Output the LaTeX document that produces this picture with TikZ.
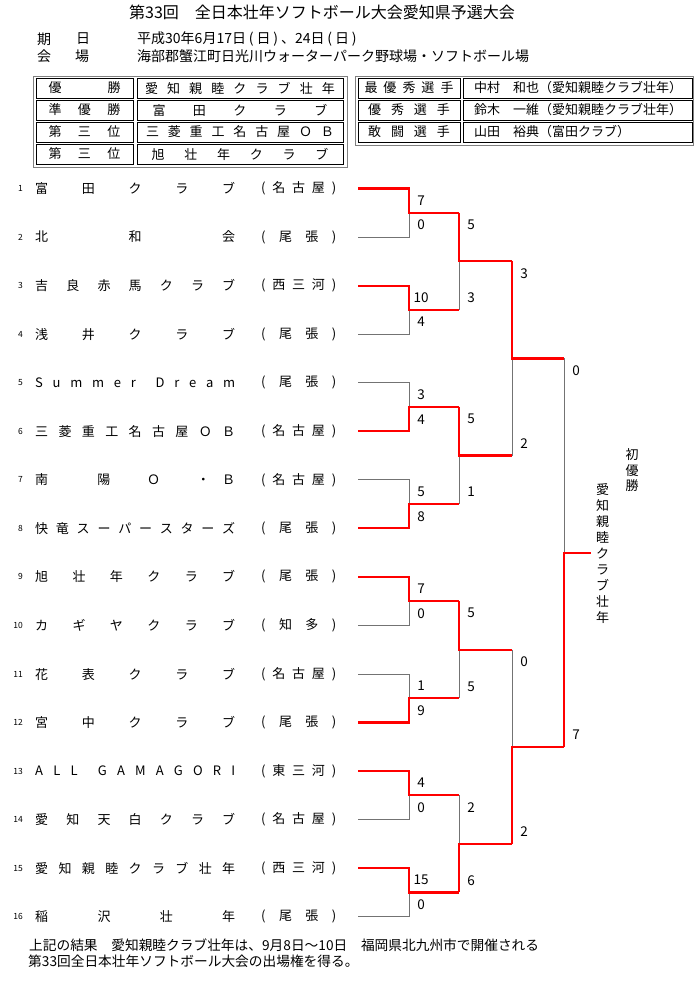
\documentclass[tikz,border=0pt]{standalone}
\usepackage{fontspec}
\setmainfont{Noto Sans CJK JP}
\usetikzlibrary{calc}
\newcommand\halfw[1]{\makebox[0.75em]{#1}}
\def\sprd#1{\sprdA#1\sprdEnd}
\def\sprdA#1#2\sprdEnd{#1\if\relax\detokenize{#2}\relax\else\hfill\sprdA#2\sprdEnd\fi}
\begin{document}
\begin{tikzpicture}[x=1pt,y=-1pt,
  lose/.style={draw=black!55, line width=1pt},
  win/.style={draw=red, line width=2.2pt, line join=miter},
  score/.style={font=\fontsize{13.5}{14}\selectfont, inner sep=0pt},
  idx/.style={font=\fontsize{8.5}{9}\selectfont, anchor=east, inner sep=0pt},
  tname/.style={font=\fontsize{13}{14}\selectfont, anchor=west, inner sep=0pt},
  cell/.style={draw=black, line width=0.8pt, minimum height=20pt, inner sep=0pt, font=\fontsize{13}{14}\selectfont},
  frame/.style={draw=black!50, line width=0.8pt},
  head/.style={font=\fontsize{14}{15}\selectfont, anchor=west, inner sep=0pt},
  foot/.style={font=\fontsize{13.7}{15}\selectfont, anchor=west, inner sep=0pt},
  vtext/.style={align=center, inner sep=0pt}]
\useasboundingbox (0,0) rectangle (700,983);
\fill[white] (0,0) rectangle (700,983);

% header
\node[head, font=\fontsize{16}{17}\selectfont] (title) at (129,12.5) {第33回　全日本壮年ソフトボール大会愛知県予選大会};
\node[head] (h1a) at (37,39) {期};
\node[head] (h1b) at (76,39) {日};
\node[head] (h1c) at (137,39) {平成30年6月17日\halfw{(}日\halfw{)}、24日\halfw{(}日\halfw{)}};
\node[head] (h2a) at (37,56) {会};
\node[head] (h2b) at (75,56) {場};
\node[head] (h2c) at (137,56) {海部郡蟹江町日光川ウォーターパーク野球場・ソフトボール場};

% result tables
\draw[frame] (33,76) rectangle (347,167);
\node[cell, minimum width=97pt] (l1) at (84.5,88) {\makebox[72pt][s]{\sprd{優勝}}};
\node[cell, minimum width=206pt] (v1) at (240,88) {\makebox[190pt][s]{\sprd{愛知親睦クラブ壮年}}};
\node[cell, minimum width=97pt] (l2) at (84.5,110) {\makebox[72pt][s]{\sprd{準優勝}}};
\node[cell, minimum width=206pt] (v2) at (240,110) {\makebox[175pt][s]{\sprd{富田クラブ}}\hspace{9pt}};
\node[cell, minimum width=97pt] (l3) at (84.5,132) {\makebox[72pt][s]{\sprd{第三位}}};
\node[cell, minimum width=206pt] (v3) at (240,132) {\makebox[188pt][s]{\sprd{三菱重工名古屋ＯＢ}}\hspace{2pt}};
\node[cell, minimum width=97pt] (l4) at (84.5,154) {\makebox[72pt][s]{\sprd{第三位}}};
\node[cell, minimum width=206pt] (v4) at (240,154) {\makebox[177pt][s]{\sprd{旭壮年クラブ}}\hspace{7pt}};

\draw[frame] (355,76) rectangle (693,145);
\node[cell, minimum width=102pt] (k1) at (409,88) {\makebox[89pt][s]{\sprd{最優秀選手}}\hspace{3pt}};
\node[cell, minimum width=229pt] (w1) at (577.5,88) {\makebox[229pt][l]{\hspace{11pt}中村　和也（愛知親睦クラブ壮年）}};
\node[cell, minimum width=102pt] (k2) at (409,110) {\makebox[82pt][s]{\sprd{優秀選手}}};
\node[cell, minimum width=229pt] (w2) at (577.5,110) {\makebox[229pt][l]{\hspace{11pt}鈴木　一維（愛知親睦クラブ壮年）}};
\node[cell, minimum width=102pt] (k3) at (409,132) {\makebox[82pt][s]{\sprd{敢闘選手}}};
\node[cell, minimum width=229pt] (w3) at (577.5,132) {\makebox[229pt][l]{\hspace{11pt}山田　裕典（富田クラブ）}};

% teams
\foreach \i/\nm/\rg in {1/{富田クラブ}/{(名古屋)}, 2/{北和会}/{(尾張)}, 3/{吉良赤馬クラブ}/{(西三河)},
  4/{浅井クラブ}/{(尾張)}, 5/{Summer{}Dream}/{(尾張)}, 6/{三菱重工名古屋ＯＢ}/{(名古屋)},
  7/{南{}{}{}陽{}{}Ｏ{}{}・Ｂ}/{(名古屋)}, 8/{快竜スーパースターズ}/{(尾張)}, 9/{旭壮年クラブ}/{(尾張)},
  10/{カギヤクラブ}/{(知多)}, 11/{花表クラブ}/{(名古屋)}, 12/{宮中クラブ}/{(尾張)},
  13/{ALL{}GAMAGORI}/{(東三河)}, 14/{愛知天白クラブ}/{(名古屋)}, 15/{愛知親睦クラブ壮年}/{(西三河)},
  16/{稲沢壮年}/{(尾張)}} {
  \coordinate (s\i) at (358, {188.5+(\i-1)*48.55});
  \coordinate (a\i) at (409, {188.5+(\i-1)*48.55});
  \node[idx] (num\i) at (23, {188.5+(\i-1)*48.55}) {\i};
  \node[tname] (name\i) at (35, {188.5+(\i-1)*48.55}) {\makebox[200pt][s]{\expandafter\sprd\expandafter{\nm}}};
  \node[tname] (reg\i) at (261, {188.5+(\i-1)*48.55}) {\makebox[75pt][s]{\expandafter\sprd\expandafter{\rg}}};
}

% bracket coordinates
\foreach \k in {1,...,8} {
  \pgfmathtruncatemacro\tt{2*\k-1}
  \pgfmathtruncatemacro\bb{2*\k}
  \coordinate (m\k) at ($(a\tt)!0.5!(a\bb)$);
  \coordinate (n\k) at ($(m\k)+(50,0)$);
}
\foreach \k in {1,...,4} {
  \pgfmathtruncatemacro\tt{2*\k-1}
  \pgfmathtruncatemacro\bb{2*\k}
  \coordinate (p\k) at ($(n\tt)!0.5!(n\bb)$);
  \coordinate (q\k) at ($(p\k)+(53,0)$);
}
\foreach \k in {1,2} {
  \pgfmathtruncatemacro\tt{2*\k-1}
  \pgfmathtruncatemacro\bb{2*\k}
  \coordinate (u\k) at ($(q\tt)!0.5!(q\bb)$);
  \coordinate (v\k) at ($(u\k)+(52,0)$);
}
\coordinate (f) at ($(v1)!0.5!(v2)$);
\coordinate (w) at ($(f)+(27,0)$);

% grey lines
\foreach \k in {1,...,8} {
  \pgfmathtruncatemacro\tt{2*\k-1}
  \pgfmathtruncatemacro\bb{2*\k}
  \draw[lose] (s\tt) -- (a\tt) -- (a\bb) -- (s\bb);
}
\foreach \k in {1,...,4} {
  \pgfmathtruncatemacro\tt{2*\k-1}
  \pgfmathtruncatemacro\bb{2*\k}
  \draw[lose] (n\tt) -- (n\bb);
}
\draw[lose] (q1) -- (q2);
\draw[lose] (q3) -- (q4);
\draw[lose] (v1) -- (v2);

% winners in red
\foreach \k/\wn in {1/1, 2/3, 3/6, 4/8, 5/9, 6/12, 7/13, 8/15} {
  \draw[win] (s\wn) -- (a\wn) -- (m\k) -- (n\k);
}
\foreach \k/\wn in {1/1, 2/3, 3/5, 4/8} {
  \draw[win] (n\wn) -- (p\k) -- (q\k);
}
\draw[win] (q1) -- (u1) -- (v1);
\draw[win] (q4) -- (u2) -- (v2);
\draw[win] (v2) -- (f) -- (w);

% scores
\foreach \k/\sca/\scb in {1/7/0, 2/10/4, 3/3/4, 4/5/8, 5/7/0, 6/1/9, 7/4/0, 8/15/0} {
  \pgfmathtruncatemacro\tt{2*\k-1}
  \pgfmathtruncatemacro\bb{2*\k}
  \node[score] (ra\k) at ($(a\tt)+(12,12)$) {\sca};
  \node[score] (rb\k) at ($(a\bb)+(12,-12)$) {\scb};
}
\foreach \k/\sca/\scb in {1/5/3, 2/5/1, 3/5/5, 4/2/6} {
  \pgfmathtruncatemacro\tt{2*\k-1}
  \pgfmathtruncatemacro\bb{2*\k}
  \node[score] (qa\k) at ($(n\tt)+(12,12)$) {\sca};
  \node[score] (qb\k) at ($(n\bb)+(12,-12)$) {\scb};
}
\node[score] (sa1) at ($(q1)+(12,12)$) {3};
\node[score] (sb1) at ($(q2)+(12,-12)$) {2};
\node[score] (sa2) at ($(q3)+(12,12)$) {0};
\node[score] (sb2) at ($(q4)+(12,-12)$) {2};
\node[score] (fa) at ($(v1)+(12,12)$) {0};
\node[score] (fb) at ($(v2)+(12,-12)$) {7};

% champion
\node[vtext, font=\fontsize{13}{15.5}\selectfont] (first) at (632,470.5) {初\\優\\勝};
\node[vtext, font=\fontsize{13}{15.9}\selectfont] (champ) at (602.5,553.5) {愛\\知\\親\\睦\\ク\\ラ\\ブ\\壮\\年};

% footer
\node[foot] (foot1) at (29,945) {上記の結果　愛知親睦クラブ壮年は、9月8日～10日　福岡県北九州市で開催される};
\node[foot] (foot2) at (28,961) {第33回全日本壮年ソフトボール大会の出場権を得る。};
\end{tikzpicture}
\end{document}
